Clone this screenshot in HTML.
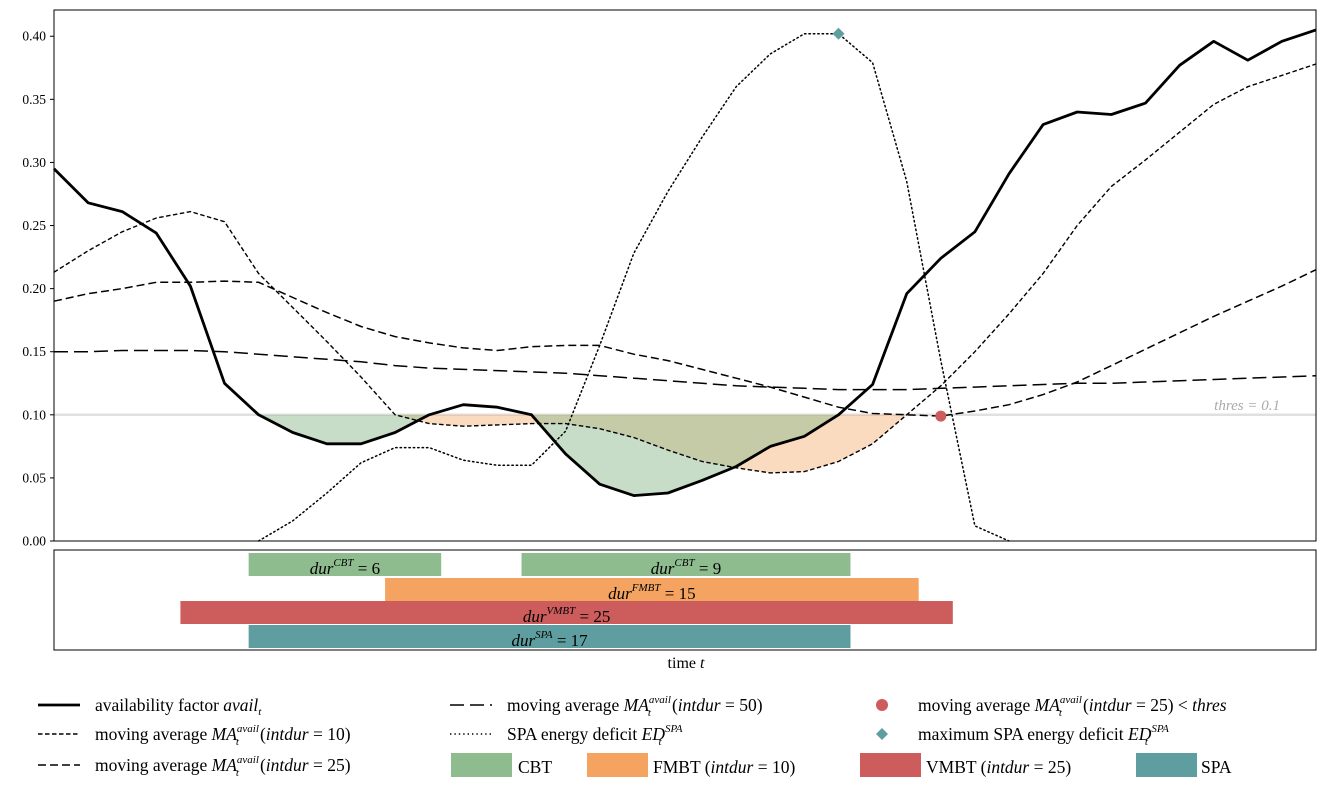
<!DOCTYPE html>
<html><head><meta charset="utf-8"><style>
body{margin:0;background:#fff}
svg{display:block;font-family:"Liberation Serif",serif}
</style></head><body>
<svg id="chart" width="1323" height="789" viewBox="0 0 1323 789" xmlns="http://www.w3.org/2000/svg"></svg>
<script>
const avail=[0.295,0.268,0.261,0.244,0.202,0.125,0.100,0.086,0.077,0.077,0.086,0.100,0.108,0.106,0.100,0.069,0.045,0.036,0.038,0.048,0.059,0.075,0.083,0.100,0.124,0.196,0.224,0.245,0.291,0.330,0.340,0.338,0.347,0.377,0.396,0.381,0.396,0.405];
const ma10=[0.213,0.230,0.245,0.256,0.261,0.253,0.212,0.185,0.158,0.130,0.100,0.093,0.091,0.092,0.093,0.093,0.089,0.082,0.072,0.063,0.058,0.054,0.055,0.063,0.077,0.100,0.123,0.150,0.180,0.212,0.250,0.281,0.302,0.324,0.346,0.360,0.369,0.378];
const ma25=[0.190,0.196,0.200,0.205,0.205,0.206,0.205,0.193,0.181,0.170,0.162,0.157,0.153,0.151,0.154,0.155,0.155,0.148,0.143,0.136,0.129,0.122,0.114,0.106,0.101,0.100,0.099,0.103,0.108,0.116,0.126,0.139,0.152,0.165,0.178,0.190,0.202,0.215];
const ma50=[0.150,0.150,0.151,0.151,0.151,0.150,0.148,0.146,0.144,0.142,0.139,0.137,0.136,0.135,0.134,0.133,0.131,0.129,0.127,0.125,0.123,0.122,0.121,0.120,0.120,0.120,0.121,0.122,0.123,0.124,0.125,0.125,0.126,0.127,0.128,0.129,0.130,0.131];
const spaStart=6;
const spa=[0,0.016,0.038,0.062,0.074,0.074,0.064,0.060,0.060,0.087,0.155,0.228,0.277,0.320,0.360,0.386,0.402,0.402,0.379,0.285,0.143,0.012,0];
const thres=0.1;
const yTicks=[0,0.05,0.10,0.15,0.20,0.25,0.30,0.35,0.40];
const yTickLabels=["0.00","0.05","0.10","0.15","0.20","0.25","0.30","0.35","0.40"];
const barNames=["cbt-1","cbt-2","fmbt","vmbt","spa"];
const barStart=[6,14,10,4,6];
const barEnd=[11,23,25,26,23];
const barRow=[0,0,1,2,3];
const barSup=["CBT","CBT","FMBT","VMBT","SPA"];
const barDur=[6,9,15,25,17];
const barColor=["#8fbc8f","#8fbc8f","#f4a460","#cd5c5c","#5f9ea0"];

const NS="http://www.w3.org/2000/svg";
const svg=document.getElementById('chart');
const L=54,R=1316,T=10,B=541;
const X=i=>L+(R-L)*i/37;
const Y=v=>B-(v/0.4208)*(B-T-0);
function el(tag,attrs,parent){const e=document.createElementNS(NS,tag);for(const k in attrs)e.setAttribute(k,attrs[k]);(parent||svg).appendChild(e);return e;}
function pts(arr,off){return arr.map((v,i)=>X(i+(off||0)).toFixed(1)+','+Y(v).toFixed(1)).join(' ');}

let e=el('line',{x1:L,x2:R,y1:Y(thres),y2:Y(thres),stroke:'#e0e0e0','stroke-width':2.5});



function fillBelow(arr,color,op,name){
  const p=[];
  for(let i=0;i<arr.length;i++){
    if(i>0){const a=arr[i-1],b=arr[i];if((a-thres)*(b-thres)<0){const t=(thres-a)/(b-a);p.push([i-1+t,thres]);}}
    p.push([i,Math.min(arr[i],thres)]);
  }
  const d=p.map(q=>X(q[0]).toFixed(1)+','+Y(q[1]).toFixed(1)).join(' ')+' '+X(arr.length-1)+','+Y(thres)+' '+X(0)+','+Y(thres);
  const f=el('polygon',{points:d,fill:color,'fill-opacity':op,stroke:'none'});
  
  
}
fillBelow(ma10,'#f4a460',0.4,'fmbt-fill');
fillBelow(avail,'#8fbc8f',0.5,'cbt-fill');

e=el('text',{x:1280,y:Y(thres)-5,'text-anchor':'end','font-size':15,fill:'#aaa','font-style':'italic'});e.textContent='thres = 0.1';



function line(arr,off,attrs,name){const l=el('polyline',Object.assign({points:pts(arr,off),fill:'none',stroke:'#000'},attrs));

}
line(ma50,0,{'stroke-width':1.5,'stroke-dasharray':'14,6'},'ma50-line');
line(ma25,0,{'stroke-width':1.5,'stroke-dasharray':'8,4'},'ma25-line');
line(ma10,0,{'stroke-width':1.4,'stroke-dasharray':'4.5,2.5'},'ma10-line');
line(spa,spaStart,{'stroke-width':1.5,'stroke-dasharray':'1.4,3','stroke-linecap':'round'},'spa-deficit-line');
line(avail,0,{'stroke-width':2.8,'stroke-linejoin':'round'},'avail-line');

let mi=ma25.findIndex((v,i)=>i>20&&v<thres);
e=el('circle',{cx:X(mi),cy:Y(ma25[mi]),r:5.5,fill:'#cd5c5c'});


let sm=0;spa.forEach((v,i)=>{if(v>=spa[sm])sm=i;});
const dx=X(sm+spaStart),dy=Y(spa[sm]);
e=el('polygon',{points:`${dx},${dy-6} ${dx+6},${dy} ${dx},${dy+6} ${dx-6},${dy}`,fill:'#5f9ea0'});



e=el('rect',{x:L,y:T,width:R-L,height:B-T,fill:'none',stroke:'#000','stroke-width':1});


yTicks.forEach((v,k)=>{
  const t=el('line',{x1:L-4,x2:L,y1:Y(v),y2:Y(v),stroke:'#000'});
  
  
  const tx=el('text',{x:L-8,y:Y(v)+4.5,'text-anchor':'end','font-size':13.5});tx.textContent=yTickLabels[k];
  
  
});

const PT=550,PB=650;
e=el('rect',{x:L,y:PT,width:R-L,height:PB-PT,fill:'none',stroke:'#000','stroke-width':1});


const rowY=[553,578,601,625],rowH=23;
barStart.forEach((s,k)=>{
  const x0=X(s)-10,x1=X(barEnd[k])+12,y0=rowY[barRow[k]];
  const r=el('rect',{x:x0,y:y0,width:x1-x0,height:rowH,fill:barColor[k]});
  
  
  const t=el('text',{x:(x0+x1)/2,y:y0+21,'text-anchor':'middle','font-size':17});
  t.innerHTML=`<tspan font-style="italic">dur</tspan><tspan font-style="italic" font-size="11" dy="-8">${barSup[k]}</tspan><tspan dy="8"> = ${barDur[k]}</tspan>`;
  
  
});
e=el('text',{x:686,y:668,'text-anchor':'middle','font-size':16});
e.innerHTML='time <tspan font-style="italic">t</tspan>';



const MA=(n)=>`<tspan font-style="italic">MA</tspan><tspan font-style="italic" font-size="11" dy="-8">avail</tspan><tspan font-style="italic" font-size="11" dx="-23" dy="13">t</tspan><tspan dx="21" dy="-5">(</tspan><tspan font-style="italic">intdur</tspan> = ${n})`;
const ED=`<tspan font-style="italic">ED</tspan><tspan font-style="italic" font-size="11" dy="-8">SPA</tspan><tspan font-style="italic" font-size="11" dx="-24" dy="13">t</tspan>`;
const leg=[
 {x:95,y:711,h:'line',d:'none',w:2.8,t:'availability factor <tspan font-style="italic">avail</tspan><tspan font-style="italic" font-size="11" dy="4">t</tspan>',n:'legend-avail'},
 {x:95,y:740,h:'line',d:'4.5,2.5',w:1.5,t:'moving average '+MA(10),n:'legend-ma10'},
 {x:95,y:771,h:'line',d:'8,4',w:1.5,t:'moving average '+MA(25),n:'legend-ma25'},
 {x:507,y:711,h:'line',d:'14,6',w:1.5,t:'moving average '+MA(50),n:'legend-ma50'},
 {x:507,y:740,h:'line',d:'1.4,3',w:1.5,t:'SPA energy deficit '+ED,n:'legend-spa-deficit'},
 {x:918,y:711,h:'circle',t:'moving average '+MA(25)+' &lt; <tspan font-style="italic">thres</tspan>',n:'legend-ma25-marker'},
 {x:918,y:740,h:'diamond',t:'maximum SPA energy deficit '+ED,n:'legend-max-spa'},
 {x:518,y:773,h:'patch',c:'#8fbc8f',px:451,t:'CBT',n:'legend-cbt'},
 {x:653,y:773,h:'patch',c:'#f4a460',px:587,t:'FMBT (<tspan font-style="italic">intdur</tspan> = 10)',n:'legend-fmbt'},
 {x:926,y:773,h:'patch',c:'#cd5c5c',px:860,t:'VMBT (<tspan font-style="italic">intdur</tspan> = 25)',n:'legend-vmbt'},
 {x:1201,y:773,h:'patch',c:'#5f9ea0',px:1136,t:'SPA',n:'legend-spa'}
];
leg.forEach(g=>{
  const gr=el('g',{});
  
  
  const cy=g.y-6;
  if(g.h==='line'){el('line',{x1:g.x-57,x2:g.x-15,y1:cy,y2:cy,stroke:'#000','stroke-width':g.w,'stroke-dasharray':g.d},gr);}
  else if(g.h==='circle'){el('circle',{cx:g.x-36,cy:cy,r:6,fill:'#cd5c5c'},gr);}
  else if(g.h==='diamond'){const c=g.x-36;el('polygon',{points:`${c},${cy-6} ${c+6},${cy} ${c},${cy+6} ${c-6},${cy}`,fill:'#5f9ea0'},gr);}
  else {el('rect',{x:g.px,y:753,width:61,height:24,fill:g.c},gr);}
  const t=el('text',{x:g.x,y:g.y,'font-size':17.5},gr);t.innerHTML=g.t;
});
</script>
</body></html>
